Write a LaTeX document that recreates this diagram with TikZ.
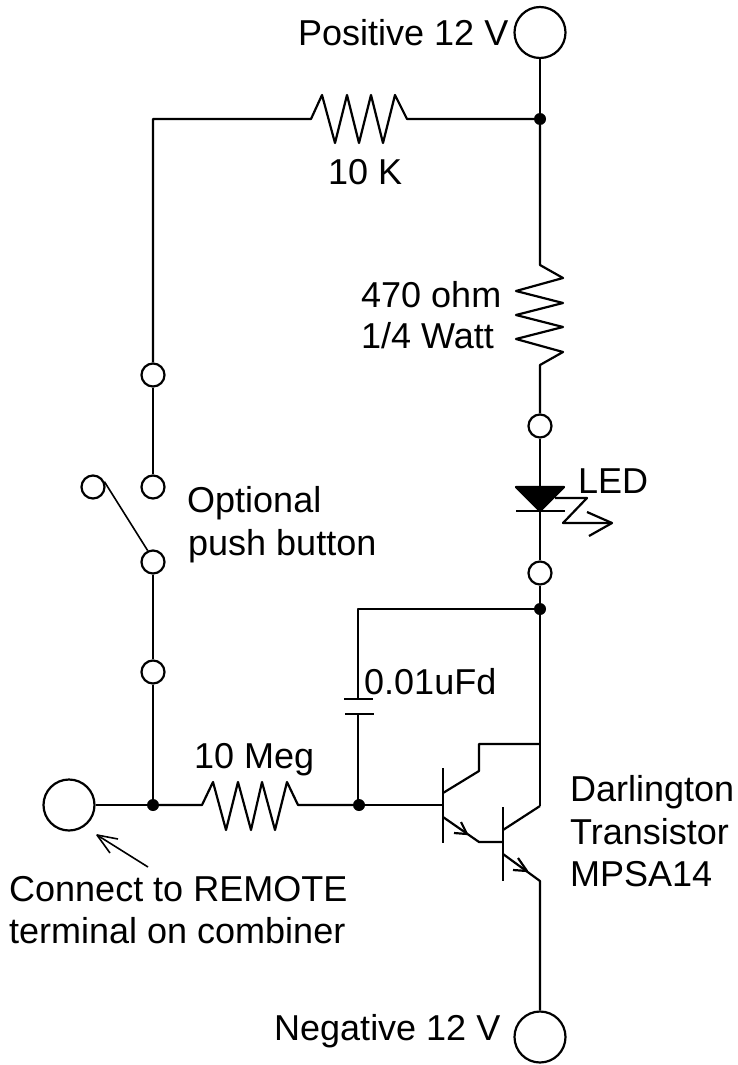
\documentclass[tikz,border=0pt]{standalone}
\usepackage{fontspec}
\setmainfont{Liberation Sans}
\tikzset{
 x=1pt,y=-1pt,
 wire/.style={line width=2.2pt,line join=round},
 thin wire/.style={line width=1.6pt,line join=round},
 term/.style={circle,draw,line width=2.2pt,fill=white,inner sep=0pt,minimum size=#1},
 term/.default=23pt,
 dot/.style={circle,fill=black,inner sep=0pt,minimum size=12pt},
 lab/.style={inner sep=0pt,anchor=base west,font=\fontsize{36}{42}\selectfont,text=black}
}
\begin{document}
\begin{tikzpicture}
\useasboundingbox (0,0) rectangle (738,1065);
% nodes
\node[term=51pt] (vp) at (540,32.5) {};
\node[term=51pt] (vn) at (540,1037) {};
\node[term=51pt] (rem) at (69,805) {};
\node[dot] (j1) at (540,119) {};
\node[dot] (j2) at (540,609) {};
\node[dot] (j3) at (153,805) {};
\node[dot] (j4) at (359,805) {};
\node[term] (t1) at (540,426) {};
\node[term] (t2) at (540,573) {};
\node[term] (s1) at (153,375) {};
\node[term] (s2) at (153,487) {};
\node[term] (s3) at (93,487) {};
\node[term] (s4) at (153,562) {};
\node[term] (s5) at (153,672) {};
\coordinate (corner) at (153,119);
\coordinate (capc) at (358,609);
% upper wiring
\draw[wire] (vp) -- (j1);
\draw[wire] (j1) -- (407,119) -- (395,95) -- (383,143) -- (371,95) -- (359,143) -- (347,95) -- (335,143) -- (322,95) -- (311,119) -- (corner) -- (s1);
\draw[wire] (j1) -- (540,265) -- (563,278) -- (516,291) -- (563,303) -- (516,315) -- (563,327) -- (516,339) -- (563,352) -- (540,365) -- (t1);
% LED
\draw[wire] (t1) -- (t2);
\draw[wire,fill=black] (516,487) -- (564,487) -- (540,511) -- cycle;
\draw[wire] (516,511) -- (565,511);
\draw[wire] (555,498) -- (587,498) -- (563,523) -- (612,523);
\draw[wire] (587,512) -- (612,523) -- (589,536);
\draw[wire] (t2) -- (j2);
% switch
\draw[wire] (s1) -- (s2);
\draw[thin wire] (s3.25) -- (s4.115);
\draw[wire] (s4) -- (s5);
\draw[wire] (s5) -- (j3);
% input
\draw[wire] (rem) -- (j3);
\draw[wire] (j3) -- (202,805) -- (213,782) -- (226,830) -- (238,782) -- (251,830) -- (262,782) -- (275,830) -- (287,782) -- (298,805) -- (j4);
\draw[wire] (j4) -- (443,805);
% capacitor
\draw[wire] (j2) -- (capc) -- (358,699);
\draw[wire] (344,699) -- (373,699);
\draw[wire] (345,714) -- (374,714);
\draw[wire] (358,714) -- (358,805);
% Darlington
\draw[wire] (j2) -- (540,806);
\draw[wire] (443,768) -- (443,843);
\draw[wire] (443,793) -- (479,771) -- (479,744) -- (540,744);
\draw[wire] (443,817) -- (479,842) -- (503,842);
\draw[wire] (461,822) -- (467,834) -- (454,833);
\draw[wire] (503,807) -- (503,881);
\draw[wire] (503,830) -- (540,806);
\draw[wire] (503,854) -- (540,881) -- (vn);
\draw[wire] (518,858) -- (527,871) -- (513,870);
% note arrow
\coordinate (na) at (97,835);
\draw[thin wire] (148,867) -- (na);
\draw[thin wire] (118,839) -- (na) -- (110,853);
% labels
\node[lab] (l1) at (298,46) {Positive 12 V};
\node[lab] (l2) at (274,1040) {Negative 12 V};
\node[lab] (l3) at (328,184) {10 K};
\node[lab] (l4) at (361,307) {470 ohm};
\node[lab] (l5) at (361,348) {1/4 Watt};
\node[lab] (l6) at (578,493) {LED};
\node[lab] (l7) at (187,512) {Optional};
\node[lab] (l8) at (188,555) {push button};
\node[lab] (l9) at (364,694) {0.01uFd};
\node[lab] (l10) at (194,768) {10 Meg};
\node[lab] (l11) at (570,801) {Darlington};
\node[lab] (l12) at (570,844) {Transistor};
\node[lab] (l13) at (570,886) {MPSA14};
\node[lab] (l14) at (9,901) {Connect to REMOTE};
\node[lab] (l15) at (9,943) {terminal on combiner};
\end{tikzpicture}
\end{document}
